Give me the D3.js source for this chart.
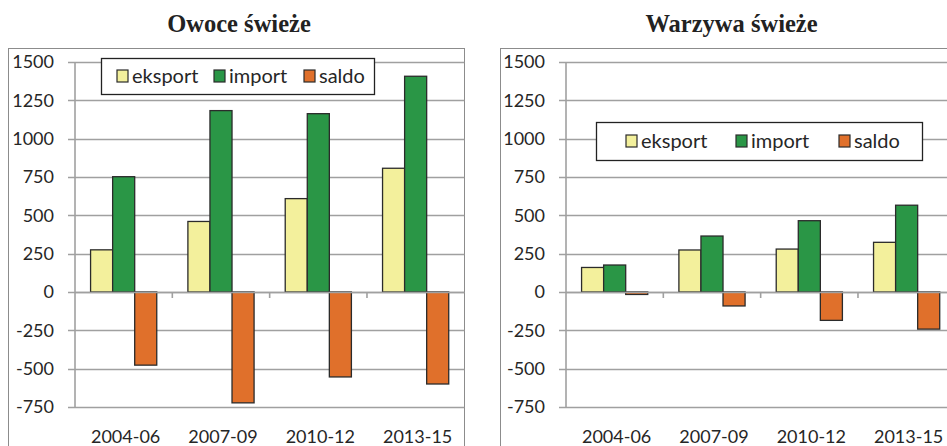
<!DOCTYPE html>
<html>
<head>
<meta charset="utf-8">
<script src="https://cdn.jsdelivr.net/npm/d3@7"></script>
<style>
	body { margin: 0; background: #fff; }
	svg { display: block; }
	.tick-label { font-family: Lato, "Open Sans", sans-serif; font-size: 18px; fill: #262626; }
	.legend-label { font-family: Lato, "Open Sans", sans-serif; font-size: 20px; fill: #262626; }
	.title { font-family: "Liberation Serif", "DejaVu Serif", serif; font-weight: bold; font-size: 24.5px; fill: #222; }
</style>
</head>
<body>
<svg id="chart" width="947" height="446"></svg>
<script>
// dane
var periods = ["2004-06", "2007-09", "2010-12", "2013-15"];
var seriesNames = ["eksport", "import", "saldo"];
var seriesColors = ["#f3f09c", "#2a9646", "#e0702b"];
var yTicks = [-750, -500, -250, 0, 250, 500, 750, 1000, 1250, 1500];

var owoceEksport = [275, 460, 609, 807];
var owoceImport = [752, 1183, 1163, 1407];
var owoceSaldo = [-477, -723, -554, -600];

var warzywaEksport = [160, 274, 280, 324];
var warzywaImport = [176, 365, 465, 566];
var warzywaSaldo = [-16, -91, -185, -242];

var svg = d3.select("#chart");

function panel(opt) {
	var g = svg.append("g");

	// ramka wykresu
	g.append("rect")
		.attr("x", opt.frame[0] + 0.5)
		.attr("y", 48.5)
		.attr("width", opt.frame[1] - opt.frame[0])
		.attr("height", 420)
		.attr("fill", "none")
		.attr("stroke", "#8c8c8c")
		.attr("stroke-width", 1);

	g.append("text")
		.attr("class", "title")
		.attr("x", (opt.frame[0] + opt.frame[1]) / 2 + 3)
		.attr("y", 32)
		.attr("text-anchor", "middle")
		.text(opt.title);

	var x0 = d3.scaleBand().domain(periods).range([opt.left, opt.left + 389.3]).padding(0);
	var bw = x0.bandwidth();
	var x1 = d3.scaleBand().domain(seriesNames).range([bw * 0.16, bw * 0.84]).padding(0);
	var y = d3.scaleLinear().domain([-750, 1500]).range([407, 62]);

	// linie siatki
	g.append("g").selectAll("line")
		.data(yTicks)
		.enter().append("line")
		.attr("x1", opt.left - 7)
		.attr("x2", opt.left + 389.3)
		.attr("y1", function(d) { return Math.round(y(d)) + 0.5; })
		.attr("y2", function(d) { return Math.round(y(d)) + 0.5; })
		.attr("stroke", "#a0a0a0")
		.attr("stroke-width", 1.6);

	g.append("g").selectAll("text")
		.data(yTicks)
		.enter().append("text")
		.attr("class", "tick-label")
		.attr("x", opt.left - 21)
		.attr("y", function(d) { return y(d); })
		.attr("dy", "0.36em")
		.attr("text-anchor", "end")
		.text(function(d) { return d; });

	// oś y
	g.append("line")
		.attr("x1", opt.left).attr("x2", opt.left)
		.attr("y1", 62).attr("y2", 407)
		.attr("stroke", "#a0a0a0")
		.attr("stroke-width", 1.6);

	// znaczniki kategorii
	g.append("g").selectAll("line")
		.data(periods.slice(1))
		.enter().append("line")
		.attr("x1", function(d) { return x0(d); })
		.attr("x2", function(d) { return x0(d); })
		.attr("y1", y(0))
		.attr("y2", y(0) + 6)
		.attr("stroke", "#a0a0a0")
		.attr("stroke-width", 1.6);

	var rows = periods.map(function(p, i) {
		return { p: p, v: [opt.eksport[i], opt.import[i], opt.saldo[i]] };
	});

	var grp = g.append("g").selectAll("g")
		.data(rows)
		.enter().append("g")
		.attr("transform", function(d) { return "translate(" + x0(d.p) + ",0)"; });

	grp.selectAll("rect")
		.data(function(d) { return d.v.map(function(v, j) { return { s: seriesNames[j], v: v, c: seriesColors[j] }; }); })
		.enter().append("rect")
		.attr("x", function(d) { return x1(d.s); })
		.attr("y", function(d) { return y(Math.max(0, d.v)); })
		.attr("width", x1.bandwidth())
		.attr("height", function(d) { return Math.abs(y(d.v) - y(0)); })
		.attr("fill", function(d) { return d.c; })
		.attr("stroke", "#2b2b2b")
		.attr("stroke-width", 1.3);

	// linia zero nad słupkami
	g.append("line")
		.attr("x1", opt.left).attr("x2", opt.left + 389.3)
		.attr("y1", Math.round(y(0)) + 0.5).attr("y2", Math.round(y(0)) + 0.5)
		.attr("stroke", "#a0a0a0")
		.attr("stroke-width", 1.6);

	g.append("g").selectAll("text")
		.data(periods)
		.enter().append("text")
		.attr("class", "tick-label")
		.attr("x", function(d) { return x0(d) + bw / 2 + 2; })
		.attr("y", 443)
		.attr("text-anchor", "middle")
		.text(function(d) { return d; });

	// legenda
	var L = opt.legend;
	var lg = g.append("g");
	lg.append("rect")
		.attr("x", L.x + 0.5).attr("y", L.y + 0.5)
		.attr("width", L.w).attr("height", L.h)
		.attr("fill", "#fff")
		.attr("stroke", "#222")
		.attr("stroke-width", 1.3);
	seriesNames.forEach(function(s, i) {
		lg.append("rect")
			.attr("x", L.items[i]).attr("y", L.y + L.h / 2 - 6)
			.attr("width", 11).attr("height", 12)
			.attr("fill", seriesColors[i])
			.attr("stroke", "#2b2b2b")
			.attr("stroke-width", 1.2);
		lg.append("text")
			.attr("class", "legend-label")
			.attr("x", L.items[i] + 15)
			.attr("y", L.y + L.h / 2)
			.attr("dy", "0.36em")
			.text(s);
	});
}

panel({
	title: "Owoce świeże",
	frame: [8, 464],
	left: 75,
	eksport: owoceEksport, import: owoceImport, saldo: owoceSaldo,
	legend: { x: 101, y: 58, w: 273, h: 36, items: [117, 214, 304] }
});

panel({
	title: "Warzywa świeże",
	frame: [500, 957],
	left: 566,
	eksport: warzywaEksport, import: warzywaImport, saldo: warzywaSaldo,
	legend: { x: 596, y: 122, w: 326, h: 38, items: [626, 736, 839] }
});
</script>
</body>
</html>
